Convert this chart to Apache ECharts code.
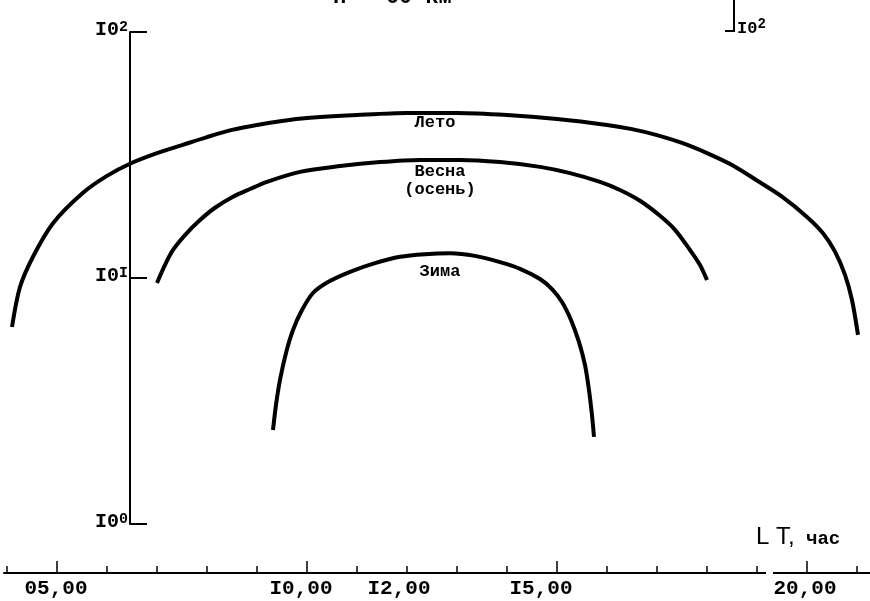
<!DOCTYPE html>
<html>
<head>
<meta charset="utf-8">
<script src="https://cdn.jsdelivr.net/npm/echarts@6/dist/echarts.min.js"></script>
<style>html,body{margin:0;padding:0;background:#fff;}#c{width:870px;height:601px;}</style>
</head>
<body>
<div id="c"></div>
<script>
// ---- data (LT hours, relative values on log scale) ----
const letoHours  = [4.10, 4.26, 4.52, 4.92, 5.52, 6.00, 6.50, 7.00, 7.50, 8.00, 8.50, 9.00, 9.50, 10.00, 11.00, 12.00, 13.00, 14.00, 15.00, 16.00, 16.50, 17.00, 17.50, 18.00, 18.50, 19.00, 19.50, 20.00, 20.32, 20.56, 20.76, 20.90, 21.02];
const letoValues = [6.32, 9.19, 12.2, 16.7, 22.2, 26.0, 29.4, 32.2, 34.7, 37.4, 40.0, 41.9, 43.5, 44.7, 46.0, 46.9, 46.9, 46.0, 44.3, 41.9, 40.3, 38.1, 35.4, 32.2, 28.8, 24.9, 21.4, 17.7, 15.2, 12.8, 10.3, 8.14, 5.87];

const vesnaHours  = [7.00, 7.16, 7.32, 7.56, 7.86, 8.16, 8.52, 8.86, 9.20, 9.86, 10.66, 11.46, 12.26, 13.06, 13.86, 14.66, 15.26, 15.86, 16.26, 16.66, 17.06, 17.36, 17.66, 17.86, 18.00];
const vesnaValues = [9.54, 11.3, 13.0, 14.95, 17.2, 19.3, 21.4, 23.0, 24.6, 27.0, 28.5, 29.6, 30.2, 30.2, 29.6, 28.3, 26.7, 24.6, 22.8, 20.6, 17.9, 15.7, 13.0, 11.3, 9.81];

const zimaHours  = [9.32, 9.38, 9.46, 9.58, 9.72, 9.90, 10.12, 10.42, 10.86, 11.36, 11.86, 12.36, 12.86, 13.36, 13.86, 14.26, 14.66, 14.90, 15.10, 15.28, 15.44, 15.56, 15.64, 15.70, 15.74];
const zimaValues = [2.41, 3.05, 3.85, 4.96, 6.15, 7.41, 8.69, 9.63, 10.6, 11.5, 12.2, 12.5, 12.6, 12.3, 11.6, 10.9, 9.91, 9.02, 7.99, 6.75, 5.49, 4.43, 3.50, 2.77, 2.26];

const seriesNames = ['Лето', 'Весна\n(осень)', 'Зима'];
const seriesLabelAt = [[12.56, 42.7], [12.66, 24.8], [12.66, 10.6]];

const xMinorTicks = [4,5,6,7,8,9,10,11,12,13,14,15,16,17,18,19,20,21];
const xMajorTicks = [5,10,15,20];
const xTickHours  = [5,10,12,15,20];
const xTickLabels = ['05,00','I0,00','I2,00','I5,00','20,00'];
const yTickBase = 'I0';
const yTickExp  = ['0','I','2'];
const titleText = 'h = 60 км';
const xAxisName = ['L T,', 'час'];

const mono = '"Liberation Mono", "DejaVu Sans Mono", monospace';
const pair = (h, v) => h.map((x, i) => [x, v[i]]);
// label nudges (px of right padding, shifts label left by half)
const xLabelPad = [2, 12, 16, 32, 4];

const chart = echarts.init(document.getElementById('c'), null, {renderer: 'canvas'});

function lineSeries(name, data, at) {
  return {
    type: 'line', name: name, data: data, smooth: 0.3, symbol: 'none',
    lineStyle: {color: '#000', width: 4}, silent: true,
    markPoint: {
      symbol: 'circle', symbolSize: 0, silent: true,
      data: [{coord: at, value: name}],
      label: {show: true, formatter: name, color: '#000', fontFamily: mono,
              fontWeight: 'bold', fontSize: 17, lineHeight: 18, position: 'inside'}
    }
  };
}

const labelRich = {};
xLabelPad.forEach((p, i) => {
  labelRich['l' + i] = {fontFamily: mono, fontWeight: 'bold', fontSize: 21, color: '#000', padding: [0, p, 0, 0]};
});

chart.setOption({
  animation: false,
  backgroundColor: '#fff',
  grid: {left: 4, right: 0, top: 32, bottom: 77, containLabel: false},
  xAxis: [{
    type: 'value', min: 3.94, max: 21.26, position: 'bottom', offset: 49,
    splitLine: {show: false},
    axisLine: {show: true, onZero: false, lineStyle: {color: '#000', width: 2}},
    axisTick: {show: true, inside: true, length: 7, customValues: xMinorTicks, lineStyle: {color: '#000', width: 1.5}},
    axisLabel: {show: true, customValues: xTickHours, margin: 5, color: '#000',
      formatter: v => { const i = xTickHours.indexOf(Math.round(v)); return '{l' + i + '|' + xTickLabels[i] + '}'; },
      rich: labelRich}
  }, {
    type: 'value', min: 3.94, max: 21.26, position: 'bottom', offset: 49,
    splitLine: {show: false},
    axisLine: {show: false, onZero: false},
    axisTick: {show: true, inside: true, length: 12, customValues: xMajorTicks, lineStyle: {color: '#000', width: 1.5}},
    axisLabel: {show: false}
  }],
  yAxis: {
    type: 'log', logBase: 10, min: 1, max: 100, position: 'left', offset: -126,
    splitLine: {show: false}, minorTick: {show: false},
    axisLine: {show: true, onZero: false, lineStyle: {color: '#000', width: 2}},
    axisTick: {show: true, inside: true, length: 17, lineStyle: {color: '#000', width: 2}},
    axisLabel: {show: true, margin: 2, color: '#000',
      formatter: v => '{m|' + yTickBase + '}{s|' + yTickExp[Math.round(Math.log10(v))] + '}',
      rich: {
        m: {fontFamily: mono, fontWeight: 'bold', fontSize: 20, lineHeight: 20, verticalAlign: 'bottom', color: '#000'},
        s: {fontFamily: mono, fontWeight: 'bold', fontSize: 15, lineHeight: 15, padding: [0,0,13,0], verticalAlign: 'top', color: '#000'}
      },
      padding: [0,0,4,0]
    }
  },
  graphic: [
    {type: 'text', left: 333, top: -14, style: {text: titleText, font: 'bold 22px ' + mono, fill: '#000'}},
    {type: 'text', left: 756, top: 525, style: {text: xAxisName[0], font: '24px "Liberation Sans", sans-serif', fill: '#000'}},
    {type: 'text', left: 806, top: 530, style: {text: xAxisName[1], font: 'bold 19px ' + mono, fill: '#000'}},
    {type: 'rect', shape: {x: 766, y: 568, width: 7, height: 10}, style: {fill: '#fff'}, z: 100},
    {type: 'polyline', shape: {points: [[734, 0], [734, 31], [725, 31]]}, style: {stroke: '#000', lineWidth: 2}},
    {type: 'text', left: 737, top: 17, style: {rich: {m: {font: 'bold 17px ' + mono}, s: {font: 'bold 14px ' + mono, padding:[0,0,10,0]}}, text: '{m|I0}{s|2}', fill: '#000'}}
  ],
  series: [
    lineSeries(seriesNames[0], pair(letoHours, letoValues), seriesLabelAt[0]),
    lineSeries(seriesNames[1], pair(vesnaHours, vesnaValues), seriesLabelAt[1]),
    lineSeries(seriesNames[2], pair(zimaHours, zimaValues), seriesLabelAt[2])
  ]
});
</script>
</body>
</html>
